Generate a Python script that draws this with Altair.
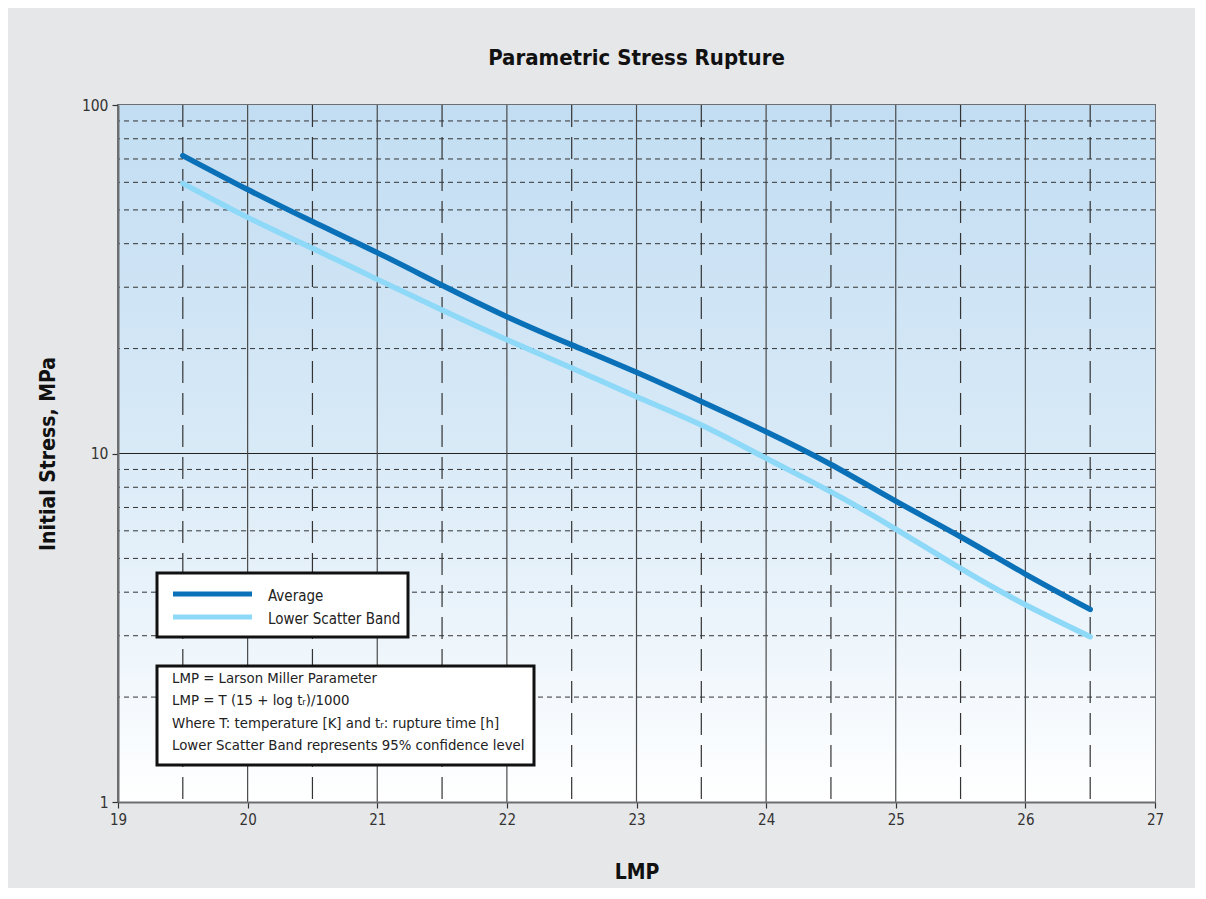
import altair as alt
import pandas as pd

# ---------------- data ----------------
lmp = [19.5, 20.0, 20.5, 21.0, 21.5, 22.0, 22.5, 23.0, 23.5, 24.0, 24.5, 25.0, 25.5, 26.0, 26.5]
average = [71.6, 57.2, 46.3, 37.7, 30.4, 24.7, 20.5, 17.1, 14.1, 11.55, 9.3, 7.3, 5.77, 4.51, 3.57]
lower_band = [59.6, 47.6, 38.8, 31.6, 25.8, 21.2, 17.6, 14.55, 12.07, 9.69, 7.76, 6.07, 4.68, 3.68, 2.98]

series_names = ["Average", "Lower Scatter Band"]
series_colors = ["#0a70b7", "#8ed8f8"]

x_ticks = [19, 20, 21, 22, 23, 24, 25, 26, 27]
y_ticks = [1, 10, 100]
x_major_grid = [20, 21, 22, 23, 24, 25, 26]
x_minor_grid = [19.5, 20.5, 21.5, 22.5, 23.5, 24.5, 25.5, 26.5]
y_major_grid = [10]
y_minor_grid = [2, 3, 4, 5, 6, 7, 8, 9, 20, 30, 40, 50, 60, 70, 80, 90]

note_lines = [
    "LMP = Larson Miller Parameter",
    "LMP = T (15 + log t\u1d63)/1000",
    "Where T: temperature [K] and t\u1d63: rupture time [h]",
    "Lower Scatter Band represents 95% confidence level",
]

# ---------------- layout ----------------
W, H = 1037, 697
FONT = "Liberation Sans Narrow, DejaVu Sans Condensed, Liberation Sans, sans-serif"

df = pd.DataFrame({
    "LMP": lmp + lmp,
    "Stress": average + lower_band,
    "Series": [series_names[0]] * len(lmp) + [series_names[1]] * len(lmp),
})

xs = alt.Scale(domain=[19, 27], nice=False, zero=False)
ys = alt.Scale(type="log", domain=[1, 100], nice=False)

x_axis = alt.Axis(
    values=x_ticks, grid=False, tickSize=6, tickColor="#333333", tickWidth=1.2,
    labelFontSize=15, labelColor="#333333", labelPadding=4, labelFont=FONT, labelFlush=False,
    domainColor="#6d6e71", domainWidth=2, zindex=2,
    title="LMP", titleFontSize=21, titleFontWeight="bold", titleFont=FONT,
    titleColor="#111111", titleY=70, titleBaseline="middle",
)
y_axis = alt.Axis(
    values=y_ticks, grid=False, tickSize=6, tickColor="#333333", tickWidth=1.2,
    labelFontSize=15.5, labelColor="#333333", labelPadding=4, labelFont=FONT, labelFlush=False,
    labelExpr="format(datum.value, 'd')",
    domainColor="#6d6e71", domainWidth=2, zindex=2,
    title="Initial Stress, MPa", titleFontSize=21, titleFontWeight="bold", titleFont=FONT,
    titleColor="#111111", titleX=-70, titleY=H / 2, titleAngle=270, titleBaseline="middle",
    titleAlign="center",
)

one = pd.DataFrame({"a": [0]})

background = alt.Chart(one).mark_rect(
    fill=alt.Gradient(
        gradient="linear",
        stops=[
            alt.GradientStop(color="#c2ddf2", offset=0),
            alt.GradientStop(color="#d9eaf7", offset=0.5),
            alt.GradientStop(color="#ffffff", offset=1),
        ],
        x1=0, x2=0, y1=0, y2=1,
    )
).encode(x=alt.value(0), x2=alt.value(W), y=alt.value(0), y2=alt.value(H))

vmajor = alt.Chart(pd.DataFrame({"v": x_major_grid})).mark_rule(
    color="#4a4a4a", strokeWidth=1.2
).encode(x=alt.X("v:Q", scale=xs, axis=x_axis))

vminor = alt.Chart(pd.DataFrame({"v": x_minor_grid})).mark_rule(
    color="#333333", strokeWidth=1.2, strokeDash=[22, 10]
).encode(x=alt.X("v:Q", scale=xs, axis=x_axis))

hmajor = alt.Chart(pd.DataFrame({"v": y_major_grid})).mark_rule(
    color="#222222", strokeWidth=1.1
).encode(y=alt.Y("v:Q", scale=ys, axis=y_axis))

hminor = alt.Chart(pd.DataFrame({"v": y_minor_grid})).mark_rule(
    color="#333333", strokeWidth=1, strokeDash=[5, 4]
).encode(y=alt.Y("v:Q", scale=ys, axis=y_axis))

lines = alt.Chart(df).mark_line(
    strokeWidth=5.5, strokeCap="round", interpolate="natural"
).encode(
    x=alt.X("LMP:Q", scale=xs, axis=x_axis),
    y=alt.Y("Stress:Q", scale=ys, axis=y_axis),
    color=alt.Color("Series:N", scale=alt.Scale(domain=series_names, range=series_colors), legend=None),
    detail="Series:N",
)

# legend box
legend_box = alt.Chart(one).mark_rect(fill="white", stroke="#111111", strokeWidth=3).encode(
    x=alt.value(39), x2=alt.value(290), y=alt.value(468), y2=alt.value(532)
)
legend_layers = [legend_box]
for i, (name, col) in enumerate(zip(series_names, series_colors)):
    yy = 489 + 23 * i
    legend_layers.append(
        alt.Chart(one).mark_rule(color=col, strokeWidth=5).encode(
            x=alt.value(55), x2=alt.value(134), y=alt.value(yy)
        )
    )
    legend_layers.append(
        alt.Chart(one).mark_text(
            text=name, align="left", baseline="middle", fontSize=15, font=FONT, color="#222222"
        ).encode(x=alt.value(150), y=alt.value(yy + 2))
    )

# note box
note_box = alt.Chart(one).mark_rect(fill="white", stroke="#111111", strokeWidth=3).encode(
    x=alt.value(39), x2=alt.value(416), y=alt.value(561), y2=alt.value(660)
)
note_text = alt.Chart(pd.DataFrame({"t": ["\n".join(note_lines)]})).mark_text(
    align="left", baseline="top", fontSize=14.8, font=FONT, color="#222222",
    lineBreak="\n", lineHeight=22.3,
).encode(text="t:N", x=alt.value(54), y=alt.value(566))

chart = alt.layer(
    background, hminor, hmajor, vminor, vmajor, lines, *legend_layers, note_box, note_text
).properties(
    width=W, height=H,
    title=alt.TitleParams(
        "Parametric Stress Rupture", fontSize=22, fontWeight="bold", font=FONT,
        color="#111111", anchor="middle", offset=28,
    ),
    autosize="none",
    padding={"left": 110, "top": 97, "right": 40, "bottom": 86},
).configure(
    background="#e6e7e9",
).configure_view(
    stroke="#6d6e71", strokeWidth=2,
)

chart.save("out.html", embed_options={"renderer": "svg", "actions": False})
